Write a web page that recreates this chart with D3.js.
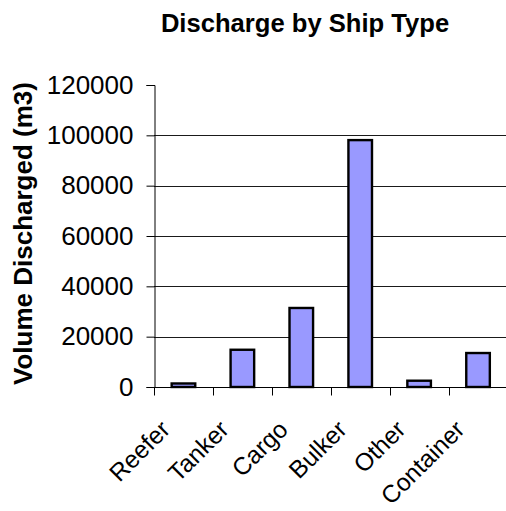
<!DOCTYPE html>
<html>
<head>
<meta charset="utf-8">
<script src="https://cdn.jsdelivr.net/npm/d3@7"></script>
<style>
  html, body { margin: 0; padding: 0; background: #fff; }
  svg { display: block; font-family: "Liberation Sans", Arial, sans-serif; }
</style>
</head>
<body>
<svg id="chart" width="506" height="511"></svg>
<script>
// Ship types and the volume each discharged (m3)
const shipTypes = ["Reefer", "Tanker", "Cargo", "Bulker", "Other", "Container"];
const volumes = [1400, 14800, 31400, 98100, 2500, 13500];
const yTicks = [0, 20000, 40000, 60000, 80000, 100000, 120000];
const gridValues = [20000, 40000, 60000, 80000, 100000];

const svg = d3.select("#chart");

const plot = { left: 154, right: 507.5, top: 85, bottom: 387 };

const x = d3.scaleBand()
  .domain(shipTypes)
  .range([plot.left, plot.right])
  .paddingInner(0.6)
  .paddingOuter(0.3);

const y = d3.scaleLinear()
  .domain([0, 120000])
  .range([plot.bottom, plot.top]);

// Horizontal gridlines
svg.append("g")
  .selectAll("line")
  .data(gridValues)
  .join("line")
  .attr("x1", plot.left)
  .attr("x2", plot.right)
  .attr("y1", d => Math.round(y(d)) + 0.5)
  .attr("y2", d => Math.round(y(d)) + 0.5)
  .attr("stroke", "#1a1a1a")
  .attr("stroke-width", 1);

// Bars
svg.append("g")
  .selectAll("rect")
  .data(shipTypes.map((t, i) => ({ type: t, value: volumes[i] })))
  .join("rect")
  .attr("x", d => x(d.type))
  .attr("width", x.bandwidth())
  .attr("y", d => y(d.value))
  .attr("height", d => y(0) - y(d.value))
  .attr("fill", "#9999ff")
  .attr("stroke", "#000")
  .attr("stroke-width", 2.4);

// Y axis
const yAxis = d3.axisLeft(y)
  .tickValues(yTicks)
  .tickFormat(d3.format("d"))
  .tickSizeOuter(0)
  .tickSize(8)
  .tickPadding(13);

const yg = svg.append("g")
  .attr("transform", `translate(${plot.left + 0.5},0)`)
  .call(yAxis);
yg.select(".domain").attr("stroke", "#000");
yg.selectAll(".tick line").attr("stroke", "#000");
yg.selectAll(".tick text")
  .attr("font-size", 26)
  .attr("font-family", "Liberation Sans, Arial, sans-serif")
  .attr("fill", "#000");

// X axis: baseline with ticks at category boundaries
const step = x.step();
const boundaries = d3.range(shipTypes.length + 1).map(i => plot.left + i * step);
svg.append("line")
  .attr("x1", plot.left)
  .attr("x2", plot.right)
  .attr("y1", plot.bottom + 0.5)
  .attr("y2", plot.bottom + 0.5)
  .attr("stroke", "#000");
svg.append("g")
  .selectAll("line")
  .data(boundaries)
  .join("line")
  .attr("x1", d => Math.round(d) + 0.5)
  .attr("x2", d => Math.round(d) + 0.5)
  .attr("y1", plot.bottom)
  .attr("y2", plot.bottom + 8.5)
  .attr("stroke", "#000");

// Category labels, rotated
svg.append("g")
  .selectAll("text")
  .data(shipTypes)
  .join("text")
  .attr("transform", d => `translate(${x(d) + x.bandwidth() / 2 - 12},431) rotate(-45)`)
  .attr("text-anchor", "end")
  .attr("font-size", 24.5)
  .attr("fill", "#000")
  .text(d => d);

// Y axis title
svg.append("text")
  .attr("transform", "translate(32,233.5) rotate(-90)")
  .attr("text-anchor", "middle")
  .attr("font-size", 26)
  .attr("font-weight", "bold")
  .attr("fill", "#000")
  .text("Volume Discharged (m3)");

// Chart title
svg.append("text")
  .attr("x", 305)
  .attr("y", 32)
  .attr("text-anchor", "middle")
  .attr("font-size", 25.6)
  .attr("font-weight", "bold")
  .attr("fill", "#000")
  .text("Discharge by Ship Type");
</script>
</body>
</html>
